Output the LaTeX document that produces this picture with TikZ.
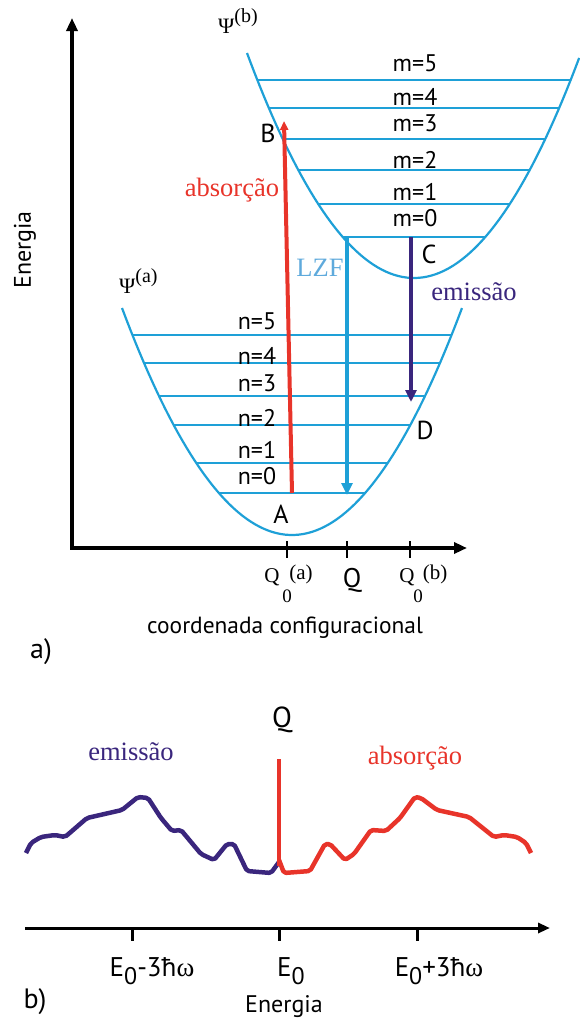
\documentclass[tikz,border=0pt]{standalone}
\usepackage{fontspec}
\setmainfont{Liberation Serif}
\setsansfont{PT Sans}
\usetikzlibrary{arrows.meta}
\definecolor{levelblue}{RGB}{30,160,215}
\definecolor{lzfblue}{RGB}{95,170,220}
\definecolor{absred}{RGB}{232,52,42}
\definecolor{emipurple}{RGB}{58,38,125}
\newcommand{\fs}[1]{\fontsize{#1}{#1}\selectfont}
\begin{document}
\begin{tikzpicture}[x=1pt,y=-1pt,every node/.style={font=\sffamily\fs{24},inner sep=0pt},
    well/.style={levelblue,line width=2.2},
    level/.style={levelblue,line width=2.6},
    axis/.style={black,line width=3.5},
    tipA/.style={-{Triangle[length=12pt,width=11pt]}},
    serif/.style={font=\rmfamily\fs{26.5}}]
    \useasboundingbox (0,0) rectangle (579,1021);
    \draw[axis,{Triangle[length=13pt,width=11pt]}-{Triangle[length=13pt,width=11pt]}]
        (72,18) coordinate (yTop) -- (72,548) coordinate (orig) -- (467,548) coordinate (xEnd);
    \foreach \x in {287,347,410} \draw[line width=2.5] (\x,541) -- (\x,558);
    \draw[well] plot[domain=-1:1,samples=80,variable=\t] ({292+170*\t},{535-227*\t*\t});
    \draw[well] plot[domain=-1:0.99,samples=80,variable=\t] ({414+167*\t},{278-225*\t*\t});
    \foreach \yy/\ly/\n in {335/321.7/5,363/356/4,396/383/3,425/418/2,463/449.5/1,493/476/0}{
        \pgfmathsetmacro\hw{170*sqrt((535-\yy)/227)}
        \draw[level] ({292-\hw},\yy) -- ({292+\hw},\yy);
        \node (n\n) at (257,\ly) {n=\n};
    }
    \foreach \yy/\ly/\m in {80/63.3/5,108/96.7/4,139/123.7/3,170/160/2,204/191.7/1,237/218.3/0}{
        \pgfmathsetmacro\hw{167*sqrt((278-\yy)/225)}
        \draw[level] ({414-\hw},\yy) -- ({414+\hw},\yy);
        \node (m\m) at (415,\ly) {m=\m};
    }
    \coordinate (absStart) at (292,493);
    \coordinate (absEnd) at (284,121);
    \coordinate (lzfStart) at (347,237);
    \coordinate (lzfEnd) at (347,495);
    \coordinate (emiStart) at (411,237);
    \coordinate (emiEnd) at (411,402);
    \draw[absred,line width=4,-{Triangle[length=9pt,width=8pt]}] (absStart) -- (absEnd);
    \draw[levelblue,line width=4,tipA] (lzfStart) -- (lzfEnd);
    \draw[emipurple,line width=4,tipA] (emiStart) -- (emiEnd);
    \node[font=\sffamily\fs{26}] (labB) at (268,133) {B};
    \node[font=\sffamily\fs{26}] (labA) at (281,514) {A};
    \node[font=\sffamily\fs{26}] (labC) at (429,254) {C};
    \node[font=\sffamily\fs{26}] (labD) at (425,430) {D};
    \node[serif,absred] (absLab) at (232,190) {absorção};
    \node[serif,lzfblue] (lzfLab) at (320,268) {LZF};
    \node[serif,emipurple] (emiLab) at (474,292) {emissão};
    \node[anchor=base west,font=\rmfamily\fs{22}] (psiB) at (218,33) {Ψ\raisebox{.5em}{\fs{20}(b)}};
    \node[anchor=base west,font=\rmfamily\fs{22}] (psiA) at (119,293) {Ψ\raisebox{.5em}{\fs{20}(a)}};
    \node[font=\rmfamily\fs{21}] (qa) at (272,577) {Q};
    \node[font=\rmfamily\fs{19}] (qa0) at (287,596) {0};
    \node[font=\rmfamily\fs{21}] (qaSup) at (301,574) {(a)};
    \node[font=\sffamily\fs{27}] (qMid) at (352,580) {Q};
    \node[font=\rmfamily\fs{21}] (qb) at (407,577) {Q};
    \node[font=\rmfamily\fs{19}] (qb0) at (418,596) {0};
    \node[font=\rmfamily\fs{21}] (qbSup) at (435,574) {(b)};
    \node[font=\sffamily\fs{23.4}] (coordLab) at (285,628) {coordenada configuracional};
    \node[font=\sffamily\fs{28}] (partA) at (41,652) {a)};
    \node[rotate=90] (energyA) at (25,250) {Energia};
    \node[font=\sffamily\fs{29}] (qTop) at (282,720) {Q};
    \node[serif,emipurple] (emiSpec) at (131,752) {emissão};
    \node[serif,absred] (absSpec) at (415,758) {absorção};
    \draw[emipurple,line width=4.5,line join=round,rounded corners=2pt]
        (26,853) -- (31,843) -- (41,837) -- (55,835) -- (65,837) -- (87,818) -- (122,810)
        -- (138,797) -- (148,798) -- (161,818) -- (172,831) -- (181,830) -- (201,854)
        -- (214,860) -- (227,844) -- (234,844) -- (247,871) -- (271,873) -- (279,862);
    \draw[absred,line width=4.5,line join=round,rounded corners=2pt]
        (279,860) -- (284,873) -- (310,871) -- (325,844) -- (330,844) -- (345,860)
        -- (354,854) -- (371,830) -- (386,831) -- (400,818) -- (415,797) -- (421,798)
        -- (437,810) -- (469,817) -- (494,837) -- (504,835) -- (517,837) -- (526,843)
        -- (531,853);
    \draw[absred,line width=4] (279,759) -- (279,866);
    \draw[line width=3,-{Triangle[length=12pt,width=10pt]}] (25,928) coordinate (eStart) -- (550,928) coordinate (eEnd);
    \foreach \x in {132,279,417} \draw[line width=3] (\x,928) -- (\x,941);
    \node[anchor=base,font=\sffamily\fs{27}] (eMinus) at (152,976) {E\raisebox{-.3em}{\fs{24}0}-3ħ{\rmfamily ω}};
    \node[anchor=base,font=\sffamily\fs{27}] (eZero) at (291,976) {E\raisebox{-.3em}{\fs{24}0}};
    \node[anchor=base,font=\sffamily\fs{27}] (ePlus) at (439,976) {E\raisebox{-.3em}{\fs{24}0}+3ħ{\rmfamily ω}};
    \node[font=\sffamily\fs{28}] (partB) at (35,1002) {b)};
    \node (energyB) at (284,1007) {Energia};
\end{tikzpicture}
\end{document}
